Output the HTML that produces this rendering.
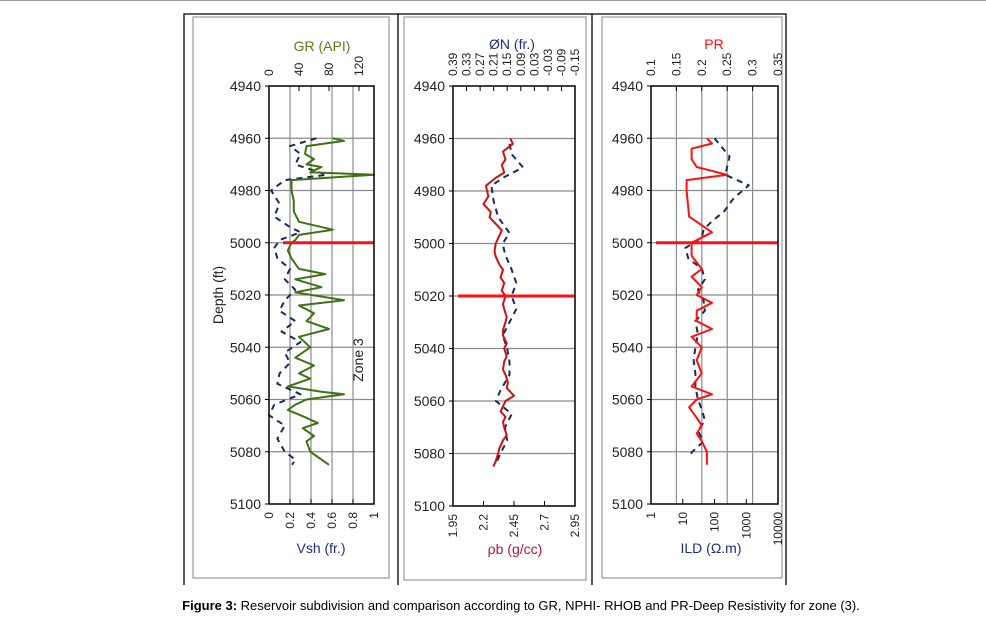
<!DOCTYPE html>
<html><head><meta charset="utf-8"><style>
body{margin:0;background:#fff;width:986px;height:621px;overflow:hidden;font-family:"Liberation Sans Narrow","Liberation Sans",sans-serif}
svg text{font-family:"Liberation Sans Narrow","Liberation Sans",sans-serif}
</style></head><body>
<svg id="c" width="986" height="621" xmlns="http://www.w3.org/2000/svg">
<line x1="0" y1="0.5" x2="986" y2="0.5" stroke="#999"/>
<path d="M184,585 V14 H786 V585 M398,14 V585 M592,14 V585" fill="none" stroke="#000" stroke-width="1.3"/>
<text x="521" y="610" font-size="13" text-anchor="middle" style="font-family:'Liberation Sans',sans-serif"><tspan font-weight="bold">Figure 3:</tspan> Reservoir subdivision and comparison according to GR, NPHI- RHOB and PR-Deep Resistivity for zone (3).</text>
</svg>
<script>
const depthTicks=[4940,4960,4980,5000,5020,5040,5060,5080,5100];
// Panel 1
const grDepth=[4960,4961,4963,4966,4968,4970,4971,4973,4974,4976,4980,4984,4988,4992,4995,4997,4999,5000,5003,5006,5010,5012,5014,5017,5019,5022,5024,5027,5030,5033,5036,5040,5044,5047,5050,5052,5055,5057,5058,5060,5062,5064,5067,5069,5071,5074,5076,5080,5082,5085];
const grValues=[85,100,50,48,60,50,70,55,140,30,30,33,33,40,85,40,35,30,25,30,40,75,35,70,35,100,40,60,50,80,40,55,35,60,40,55,25,70,100,50,35,25,50,65,45,60,50,55,65,80];
const vshDepth=[4960,4963,4966,4970,4974,4976,4980,4985,4990,4994,4996,4999,5002,5006,5010,5014,5018,5022,5026,5030,5034,5038,5042,5046,5050,5054,5058,5062,5066,5070,5075,5080,5083,5085];
const vshValues=[0.45,0.2,0.3,0.25,0.55,0.15,0.02,0.1,0.05,0.2,0.3,0.1,0.05,0.08,0.2,0.15,0.25,0.15,0.1,0.25,0.12,0.3,0.15,0.2,0.1,0.08,0.3,0.05,0.0,0.15,0.08,0.15,0.25,0.22];
const grTicks=[0,40,80,120];
const vshTicks=[0,0.2,0.4,0.6,0.8,1];
// Panel 2
const rhobDepth=[4960,4962,4965,4968,4970,4973,4975,4978,4982,4985,4988,4990,4993,4995,4998,5000,5003,5005,5008,5010,5013,5015,5018,5020,5023,5025,5028,5030,5033,5035,5038,5040,5043,5045,5048,5050,5053,5055,5058,5060,5062,5064,5066,5068,5070,5073,5075,5078,5080,5083,5085];
const rhobValues=[2.42,2.44,2.36,2.38,2.35,2.37,2.3,2.22,2.24,2.2,2.26,2.25,2.31,2.35,2.32,2.3,2.29,2.3,2.33,2.36,2.34,2.37,2.35,2.38,2.36,2.37,2.39,2.38,2.36,2.36,2.39,2.37,2.39,2.37,2.36,2.38,2.4,2.39,2.45,2.38,2.36,2.34,2.38,2.36,2.37,2.39,2.36,2.33,2.32,2.3,2.28];
const nphiDepth=[4962,4966,4971,4975,4978,4984,4990,4996,5000,5004,5010,5015,5020,5025,5030,5035,5040,5045,5050,5056,5060,5065,5070,5075,5080,5084];
const nphiValues=[0.14,0.13,0.08,0.17,0.22,0.21,0.19,0.14,0.17,0.16,0.13,0.11,0.13,0.11,0.14,0.17,0.15,0.14,0.14,0.18,0.2,0.13,0.16,0.15,0.18,0.2];
const nphiTicks=["0.39","0.33","0.27","0.21","0.15","0.09","0.03","-0.03","-0.09","-0.15"];
const rhobTicks=[1.95,2.2,2.45,2.7,2.95];
// Panel 3
const prDepth=[4960,4962,4964,4968,4971,4974,4976,4980,4990,4996,5000,5005,5010,5013,5017,5020,5023,5026,5030,5033,5036,5040,5045,5050,5055,5058,5060,5063,5067,5070,5073,5076,5080,5085];
const prValues=[0.21,0.22,0.18,0.18,0.19,0.25,0.17,0.17,0.175,0.22,0.18,0.18,0.2,0.18,0.2,0.19,0.22,0.19,0.19,0.22,0.18,0.2,0.19,0.2,0.18,0.22,0.19,0.175,0.19,0.2,0.19,0.2,0.21,0.21];
const ildDepth=[4960,4963,4967,4971,4974,4978,4983,4988,4992,4995,4998,5002,5006,5010,5014,5018,5022,5026,5030,5035,5040,5045,5050,5055,5060,5064,5068,5072,5076,5080,5082];
const ildValues=[100,160,300,250,220,1200,400,200,80,45,40,12,15,40,50,30,45,50,25,30,25,22,25,25,30,40,50,30,45,20,15];
const prTicks=["0.1","0.15","0.2","0.25","0.3","0.35"];
const ildTicks=[1,10,100,1000,10000];

const NS="http://www.w3.org/2000/svg";
const svg=document.getElementById('c');
function mk(tag,attrs,parent){const e=document.createElementNS(NS,tag);for(const k in attrs)e.setAttribute(k,attrs[k]);(parent||svg).appendChild(e);return e;}
function txt(s,attrs,parent){const e=mk('text',attrs,parent);e.textContent=s;return e;}
const Y0=86,Y1=504;
function yScale(d,y1){return Y0+(d-4940)/160*((y1||Y1)-Y0);}

function panel(p){
  const g=mk('g',{});
  
  
  const box=mk('rect',{x:p.bx,y:17,width:p.bw,height:p.bh,fill:'none',stroke:'#999','stroke-width':1.2},g);
  
  
  const y1=p.y1;
  const ys=d=>yScale(d,y1);
  // horizontal grid + depth labels
  depthTicks.forEach(d=>{
    const y=ys(d);
    if(d>4940&&d<5100){const l=mk('line',{x1:p.x0,x2:p.x1,y1:y,y2:y,stroke:'#8c8c8c','stroke-width':1.2},g);
    }
    const lt=mk('line',{x1:p.x0-4,x2:p.x0,y1:y,y2:y,stroke:'#000'},g);
    
    const t=txt(String(d),{x:p.x0-8,y:y+5,'font-size':14,'text-anchor':'end',fill:'#222'},g);
    
  });
  // vertical grid
  p.vgrid.forEach(x=>{const l=mk('line',{x1:x,x2:x,y1:Y0,y2:y1,stroke:'#8c8c8c','stroke-width':1.2},g);
    });
  // top ticks
  p.top.forEach(tk=>{
    const l=mk('line',{x1:tk.x,x2:tk.x,y1:Y0,y2:Y0+5,stroke:'#000'},g);
    
    const t=txt(tk.s,{x:0,y:0,'font-size':12,transform:`translate(${tk.x+4},76) rotate(-90)`,fill:'#222'},g);
    
  });
  p.bot.forEach(tk=>{
    const l=mk('line',{x1:tk.x,x2:tk.x,y1:y1,y2:y1-5,stroke:'#000'},g);
    
    const t=txt(tk.s,{x:0,y:0,'font-size':12,'text-anchor':'end',transform:`translate(${tk.x+4},${y1+8}) rotate(-90)`,fill:'#222'},g);
    
  });
  // series
  p.series.forEach(s=>{
    const pts=s.d.map((d,i)=>s.x(s.v[i]).toFixed(1)+','+ys(d).toFixed(1)).join(' ');
    const pl=mk('polyline',{points:pts,fill:'none',stroke:s.c,'stroke-width':s.w,'stroke-dasharray':s.dash||'none','stroke-linejoin':'round'},g);
    
  });
  // zone boundary
  const zy=ys(p.zone.d);
  const zl=mk('line',{x1:p.zone.xa,x2:p.x1,y1:zy,y2:zy,stroke:'#ff1010','stroke-width':3},g);
  
  const fr=mk('rect',{x:p.x0,y:Y0,width:p.x1-p.x0,height:y1-Y0,fill:'none',stroke:'#000','stroke-width':1.5},g);
  
  p.titles.forEach(t=>{const e=txt(t.s,{x:t.x,y:t.y,'font-size':14,'text-anchor':'middle',fill:t.c},g);
    });
}
// panel 1
{const x0=269,x1=374;
 const gx=v=>x0+v/140*(x1-x0), vx=v=>x0+v*(x1-x0);
 panel({name:'gr-vsh-panel',bx:193,bw:196,bh:561,x0,x1,y1:Y1,
  vgrid:[0.2,0.4,0.6,0.8].map(vx),
  top:grTicks.map(v=>({x:gx(v),s:String(v)})),
  bot:vshTicks.map(v=>({x:vx(v),s:String(v)})),
  series:[{name:'vsh-dashed-curve',d:vshDepth,v:vshValues,x:vx,c:'#1a2a5e',w:2,dash:'6,5'},
          {name:'gr-curve',d:grDepth,v:grValues,x:gx,c:'#3f7217',w:2}],
  zone:{d:5000,xa:283},
  titles:[{s:'GR (API)',x:322,y:51,c:'#5d7a1c',n:'gr-axis-title'},{s:'Vsh (fr.)',x:321,y:553,c:'#1f2f7a',n:'vsh-axis-title'}]});
}
// panel 2
{const x0=453,x1=575;
 const rx=v=>x0+(v-1.95)*(x1-x0), nx=v=>x0+(0.39-v)/0.54*(x1-x0);
 panel({name:'nphi-rhob-panel',bx:404,bw:182,bh:563,x0,x1,y1:506,
  vgrid:[],
  top:nphiTicks.map(s=>({x:nx(parseFloat(s)),s})),
  bot:rhobTicks.map(v=>({x:rx(v),s:String(v)})),
  series:[{name:'nphi-dashed-curve',d:nphiDepth,v:nphiValues,x:nx,c:'#1a2a5e',w:2,dash:'6,5'},
          {name:'rhob-curve',d:rhobDepth,v:rhobValues,x:rx,c:'#d01010',w:2}],
  zone:{d:5020,xa:458},
  titles:[{s:'ØN (fr.)',x:512,y:49,c:'#1f2f7a',n:'nphi-axis-title'},{s:'ρb (g/cc)',x:515,y:554,c:'#c0103c',n:'rhob-axis-title'}]});
}
// panel 3
{const x0=651,x1=778;
 const px=v=>x0+(v-0.1)/0.25*(x1-x0), lx=v=>x0+Math.log10(v)/4*(x1-x0);
 panel({name:'pr-ild-panel',bx:602,bw:180,bh:561,x0,x1,y1:Y1,
  vgrid:[0.15,0.2,0.25,0.3].map(px),
  top:prTicks.map(s=>({x:px(parseFloat(s)),s})),
  bot:ildTicks.map(v=>({x:lx(v),s:String(v)})),
  series:[{name:'ild-dashed-curve',d:ildDepth,v:ildValues,x:lx,c:'#1a2a5e',w:2,dash:'6,5'},
          {name:'pr-curve',d:prDepth,v:prValues,x:px,c:'#ff1010',w:2}],
  zone:{d:5000,xa:656},
  titles:[{s:'PR',x:714,y:49,c:'#ff1010',n:'pr-axis-title'},{s:'ILD (Ω.m)',x:711,y:553,c:'#1f2f7a',n:'ild-axis-title'}]});
}
const dl=txt('Depth (ft)',{x:0,y:0,'font-size':14,'text-anchor':'middle',transform:'translate(223,295) rotate(-90)',fill:'#222',style:"font-family:'Liberation Sans',sans-serif"});


const zt=txt('Zone 3',{x:0,y:0,'font-size':14,'text-anchor':'middle',transform:'translate(363,360) rotate(-90)',fill:'#222',style:"font-family:'Liberation Sans',sans-serif"});


</script>
</body></html>
